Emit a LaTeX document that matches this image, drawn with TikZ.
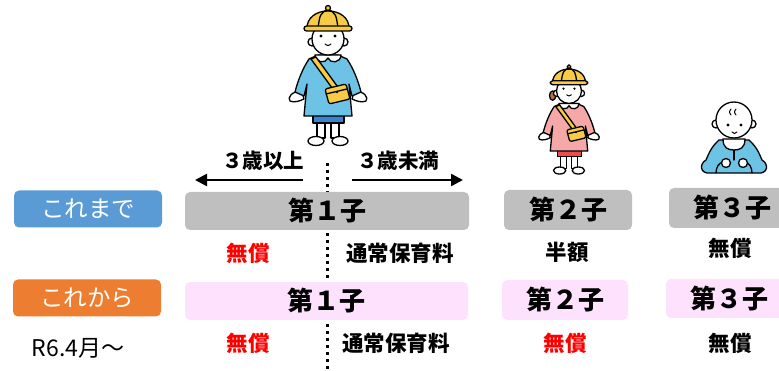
\documentclass[tikz,border=0pt]{standalone}
\usepackage{fontspec}
\setmainfont{Noto Sans CJK JP}
\usetikzlibrary{arrows.meta}

\definecolor{tagblue}{HTML}{5B9BD5}
\definecolor{tagorange}{HTML}{ED7D31}
\definecolor{boxgray}{HTML}{BFBFBF}
\definecolor{boxpink}{HTML}{FDE1FD}
\definecolor{freered}{HTML}{FF0000}
\definecolor{smockblue}{HTML}{6CC3E6}
\definecolor{shortblue}{HTML}{3C82CC}
\definecolor{hatyellow}{HTML}{F8CB47}
\definecolor{dresspink}{HTML}{F6A8A8}
\definecolor{skirtred}{HTML}{EE4B4B}
\definecolor{hairbrown}{HTML}{B5733C}

% A standing child in a school hat; #1 dress, #2 shorts/skirt, #3 extra drawing behind the head
\newcommand\drawkid[3]{%
  % legs and feet
  \draw[outl, fill=white] (317,121) rectangle (325,138);
  \draw[outl, fill=white] (331,121) rectangle (339,138);
  \draw[outl, fill=white] (316,141) ellipse[x radius=8pt, y radius=4.5pt];
  \draw[outl, fill=white] (340,141) ellipse[x radius=8pt, y radius=4.5pt];
  % shorts or skirt
  \draw[outl, fill=#2] (313,112) rectangle (344,123);
  % hands
  \draw[outl, fill=white] (302,92) .. controls (292,90) and (287,98) .. (290,101)
        .. controls (294,103) and (300,101) .. (304,99) -- cycle;
  \draw[outl, fill=white] (354,92) .. controls (364,90) and (369,98) .. (366,101)
        .. controls (362,103) and (356,101) .. (352,99) -- cycle;
  % smock
  \draw[outl, fill=#1] (318,55) -- (309,59) .. controls (303,68) and (298,80) .. (295,92)
        -- (304,96) -- (307,84) -- (304,116) -- (352,116) -- (349,84) -- (352,96)
        -- (361,92) .. controls (358,80) and (353,68) .. (347,59) -- (338,55) -- cycle;
  % collar
  \draw[outl, fill=white] (315,55) .. controls (315,63) and (326,64) .. (328,58)
        .. controls (330,64) and (341,63) .. (341,55) -- cycle;
  % shoulder bag
  \draw[outl, fill=hatyellow] (311,59) -- (316,57) -- (340,90) -- (335,92) -- cycle;
  \draw[outl, fill=hatyellow, rounded corners=2pt] (325,89) -- (346,84) -- (350,99) -- (329,104) -- cycle;
  \draw[outl] (326,94) -- (347,89);
  \fill (337,92) circle[radius=1.3pt];
  #3
  % ears and face
  \draw[outl, fill=white] (312,42) circle[radius=4pt];
  \draw[outl, fill=white] (344,42) circle[radius=4pt];
  \draw[outl, fill=white] (328,39) circle[radius=16pt];
  % hat
  \draw[outl, fill=hatyellow] (307,29) .. controls (306,5) and (350,5) .. (349,29) -- cycle;
  \draw[outl] (328,9) .. controls (320,14) .. (318,28);
  \draw[outl] (328,9) .. controls (336,14) .. (338,28);
  \draw[outl, fill=hatyellow, rounded corners=2.5pt] (304,26) rectangle (352,31);
  \draw[outl, fill=hatyellow] (328,8) circle[radius=2.5pt];
  % eyes and mouth
  \fill (321,36) circle[radius=1.6pt];
  \fill (335,36) circle[radius=1.6pt];
  \draw[outl, line width=1pt] (325,44) .. controls (328,46) .. (331,44);
}

\tikzset{
  outl/.style={draw=black, line width=1.3pt, line join=round, line cap=round},
  tag/.style={rounded corners=5pt, text=white, inner sep=0pt,
    minimum width=148pt, minimum height=37pt, font=\fontsize{23.5}{23.5}\selectfont},
  childbox/.style={rounded corners=5pt, inner sep=0pt, minimum height=38pt,
    font=\bfseries\fontsize{26}{26}\selectfont},
  oldbox/.style={childbox, fill=boxgray},
  newbox/.style={childbox, fill=boxpink},
  lbl/.style={font=\bfseries\fontsize{21.5}{21.5}\selectfont},
  redlbl/.style={lbl, text=freered},
  agelbl/.style={font=\bfseries\fontsize{20.5}{20.5}\selectfont},
  arrowline/.style={line width=2.5pt, -{Triangle[length=12pt,width=12pt]}},
  divider/.style={line width=3pt, dash pattern=on 3pt off 4pt},
}

\begin{document}
\begin{tikzpicture}[x=1pt, y=-1pt]
  \useasboundingbox (0,0) rectangle (779,371);
  \clip (0,0) rectangle (779,371);

  % first child (boy)
  \begin{scope}
    \drawkid{smockblue}{shortblue}{}
  \end{scope}

  % second child (girl)
  \begin{scope}[shift={(569,66)}, scale=0.78, shift={(-328,-7)}]
    \drawkid{dresspink}{skirtred}{%
      \draw[outl, fill=hairbrown] (307,45) ellipse[x radius=4pt, y radius=6pt];}
  \end{scope}

  % third child (baby)
  \draw[outl, fill=smockblue] (719,140) .. controls (710,148) and (708,156) .. (706,160)
        .. controls (699,164) and (700,174) .. (710,173) -- (758,173)
        .. controls (768,174) and (769,164) .. (762,160)
        .. controls (760,156) and (758,148) .. (749,140) -- cycle;
  \draw[outl] (716,173) .. controls (716,167) and (719,163) .. (723,162);
  \draw[outl] (752,173) .. controls (752,167) and (749,163) .. (745,162);
  \draw[outl] (734,150) -- (734,160);
  \draw[outl, fill=white] (723,139) .. controls (723,148) and (728,150) .. (734,150)
        .. controls (740,150) and (745,148) .. (745,139) -- cycle;
  \draw[outl, fill=white] (726,163) circle[radius=4.5pt];
  \draw[outl, fill=white] (743,163) circle[radius=4.5pt];
  \draw[outl, fill=white] (716,124) circle[radius=4pt];
  \draw[outl, fill=white] (752,124) circle[radius=4pt];
  \draw[outl, fill=white] (734,120) circle[radius=18pt];
  \draw[outl, line width=1pt] (731,109) .. controls (729,112) .. (731,115);
  \draw[outl, line width=1pt] (736,109) .. controls (734,112) .. (736,115);
  \fill (728,125) circle[radius=1.6pt];
  \fill (741,125) circle[radius=1.6pt];
  \draw[outl, line width=1pt] (732,132) .. controls (734.5,134) .. (737,132);

  % age divider and arrows
  \coordinate (divtop) at (327,163);
  \coordinate (divbot) at (327,371);
  \draw[divider] (divtop) -- (divbot);
  \node[agelbl] (over3) at (263,161) {３歳以上};
  \node[agelbl] (under3) at (398,161) {３歳未満};
  \coordinate (lstart) at (303,180);
  \coordinate (lend) at (195,180);
  \coordinate (rstart) at (352,180);
  \coordinate (rend) at (463,180);
  \draw[arrowline] (lstart) -- (lend);
  \draw[arrowline] (rstart) -- (rend);

  % row labels
  \node[tag, fill=tagblue] (before) at (88,209) {これまで};
  \node[tag, fill=tagorange] (after) at (87,298) {これから};
  \node[font=\fontsize{23}{23}\selectfont] (since) at (78,348) {R6.4月～};

  % current rules
  \node[oldbox, minimum width=284pt] (old1) at (327,211) {第１子};
  \node[oldbox, minimum width=128pt, minimum height=40pt] (old2) at (568,210) {第２子};
  \node[oldbox, minimum width=126pt, minimum height=40pt] (old3) at (732,208) {第３子};
  \node[redlbl] (old1a) at (248,253) {無償};
  \node[lbl] (old1b) at (400,253) {通常保育料};
  \node[lbl] (old2a) at (567,252) {半額};
  \node[lbl] (old3a) at (730,248) {無償};

  % new rules
  \node[newbox, minimum width=283pt] (new1) at (326.5,301) {第１子};
  \node[newbox, minimum width=126pt, minimum height=40pt] (new2) at (565,300) {第２子};
  \node[newbox, minimum width=126pt, minimum height=39pt] (new3) at (729,298.5) {第３子};
  \node[redlbl] (new1a) at (248,343) {無償};
  \node[lbl] (new1b) at (396,343) {通常保育料};
  \node[redlbl] (new2a) at (565,343) {無償};
  \node[lbl] (new3a) at (730,343) {無償};
\end{tikzpicture}
\end{document}
